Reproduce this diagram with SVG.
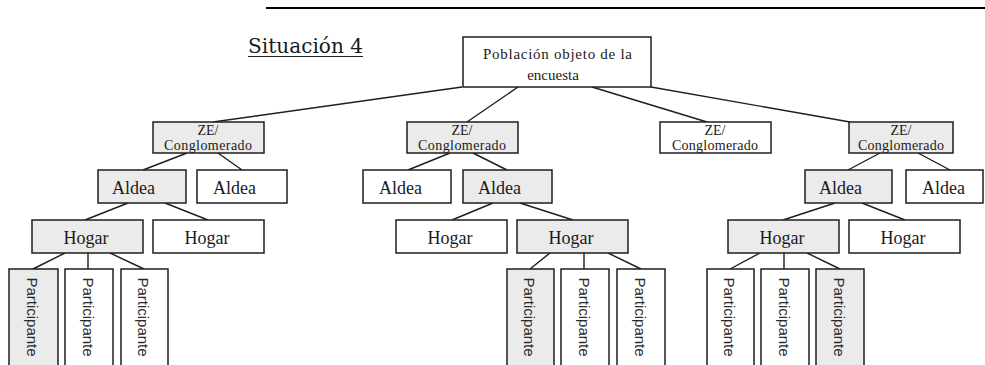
<svg xmlns="http://www.w3.org/2000/svg" width="985" height="365" viewBox="0 0 985 365">
<style>
.b{stroke:#1e1e1e;stroke-width:1.5;fill:#fff}
.g{fill:#ebebeb}
.s{font-family:"Liberation Serif","Times New Roman",serif;fill:#1a1a1a}
.ze{font-size:14px;text-anchor:middle}
.al{font-size:18px}
.ho{font-size:18px;text-anchor:middle}
.p{font-family:"Liberation Sans",Arial,sans-serif;font-size:15px;fill:#2a2a2a;text-anchor:middle}
.c{stroke:#1e1e1e;stroke-width:1.4;fill:none}
</style>
<rect width="985" height="365" fill="#fff"/>
<line x1="266" y1="8" x2="985" y2="8" stroke="#000" stroke-width="2.2"/>
<g id="title">
<text x="248" y="53" font-family="'DejaVu Serif',serif" font-size="20" fill="#1a1a1a" textLength="115" lengthAdjust="spacingAndGlyphs">Situación 4</text>
<line x1="248" y1="56.5" x2="363" y2="56.5" stroke="#222" stroke-width="1.2"/>
</g>
<g id="connectors">
<path class="c" d="M462,87 L213,122 M518,87 L467,122 M592,87 L707,122 M651,87 L850,122"/>
<path class="c" d="M187,153 L143,170 M218,153 L242,170 M450,153 L408,170 M473,153 L507,170 M880,153 L848,170 M918,153 L950,170"/>
<path class="c" d="M128,203 L85,220 M165,203 L208,220 M493,203 L452,220 M520,203 L573,220 M835,203 L783,220 M862,203 L905,220"/>
<path class="c" d="M65,253 L33,269 M88,253 L88,269 M110,253 L144,269 M550,253 L530,269 M584,253 L584,269 M608,253 L641,269 M760,253 L730,269 M784,253 L784,269 M807,253 L840,269"/>
</g>
<g id="root">
<rect class="b" x="463" y="37" width="188" height="50"/>
<text class="s" x="483" y="59" font-size="15" textLength="149" lengthAdjust="spacing">Población objeto de la</text>
<text class="s" x="553" y="80" font-size="15" text-anchor="middle">encuesta</text>
</g>
<g id="ze1"><rect class="b g" x="153" y="122" width="111" height="31"/><text class="s ze" x="208" y="135">ZE/</text><text class="s ze" x="208" y="149.5" textLength="88" lengthAdjust="spacing">Conglomerado</text></g>
<g id="ze2"><rect class="b g" x="407" y="122" width="111" height="31"/><text class="s ze" x="462" y="135">ZE/</text><text class="s ze" x="462" y="149.5" textLength="88" lengthAdjust="spacing">Conglomerado</text></g>
<g id="ze3"><rect class="b" x="660" y="122" width="111" height="31"/><text class="s ze" x="715" y="135">ZE/</text><text class="s ze" x="715" y="149.5" textLength="86" lengthAdjust="spacing">Conglomerado</text></g>
<g id="ze4"><rect class="b g" x="849" y="122" width="104" height="31"/><text class="s ze" x="901" y="135">ZE/</text><text class="s ze" x="901" y="149.5" textLength="86" lengthAdjust="spacing">Conglomerado</text></g>
<g id="aldea1"><rect class="b g" x="98" y="170" width="88" height="33"/><text class="s al" x="112" y="194">Aldea</text></g>
<g id="aldea2"><rect class="b" x="197" y="170" width="90" height="33"/><text class="s al" x="213" y="194">Aldea</text></g>
<g id="aldea3"><rect class="b" x="363" y="170" width="88" height="33"/><text class="s al" x="379" y="194">Aldea</text></g>
<g id="aldea4"><rect class="b g" x="463" y="170" width="89" height="33"/><text class="s al" x="478" y="194">Aldea</text></g>
<g id="aldea5"><rect class="b g" x="805" y="170" width="87" height="33"/><text class="s al" x="819" y="194">Aldea</text></g>
<g id="aldea6"><rect class="b" x="906" y="170" width="77" height="33"/><text class="s al" x="922" y="194">Aldea</text></g>
<g id="hogar1"><rect class="b g" x="32" y="220" width="111" height="33"/><text class="s ho" x="86" y="244">Hogar</text></g>
<g id="hogar2"><rect class="b" x="153" y="220" width="111" height="33"/><text class="s ho" x="207" y="244">Hogar</text></g>
<g id="hogar3"><rect class="b" x="396" y="220" width="111" height="33"/><text class="s ho" x="450" y="244">Hogar</text></g>
<g id="hogar4"><rect class="b g" x="517" y="220" width="111" height="33"/><text class="s ho" x="571" y="244">Hogar</text></g>
<g id="hogar5"><rect class="b g" x="728" y="220" width="111" height="33"/><text class="s ho" x="782" y="244">Hogar</text></g>
<g id="hogar6"><rect class="b" x="849" y="220" width="111" height="33"/><text class="s ho" x="903" y="244">Hogar</text></g>
<g id="p1"><rect class="b g" x="9" y="269" width="49" height="110"/><text class="p" transform="translate(27,317) rotate(90)">Participante</text></g>
<g id="p2"><rect class="b" x="65" y="269" width="48" height="110"/><text class="p" transform="translate(82.5,317) rotate(90)">Participante</text></g>
<g id="p3"><rect class="b" x="121" y="269" width="47" height="110"/><text class="p" transform="translate(138,317) rotate(90)">Participante</text></g>
<g id="p4"><rect class="b g" x="507" y="269" width="47" height="110"/><text class="p" transform="translate(524,317) rotate(90)">Participante</text></g>
<g id="p5"><rect class="b" x="561" y="269" width="48" height="110"/><text class="p" transform="translate(578.5,317) rotate(90)">Participante</text></g>
<g id="p6"><rect class="b" x="617" y="269" width="48" height="110"/><text class="p" transform="translate(634.5,317) rotate(90)">Participante</text></g>
<g id="p7"><rect class="b" x="707" y="269" width="47" height="110"/><text class="p" transform="translate(724,317) rotate(90)">Participante</text></g>
<g id="p8"><rect class="b" x="761" y="269" width="48" height="110"/><text class="p" transform="translate(778.5,317) rotate(90)">Participante</text></g>
<g id="p9"><rect class="b g" x="816" y="269" width="48" height="110"/><text class="p" transform="translate(833.5,317) rotate(90)">Participante</text></g>
</svg>
